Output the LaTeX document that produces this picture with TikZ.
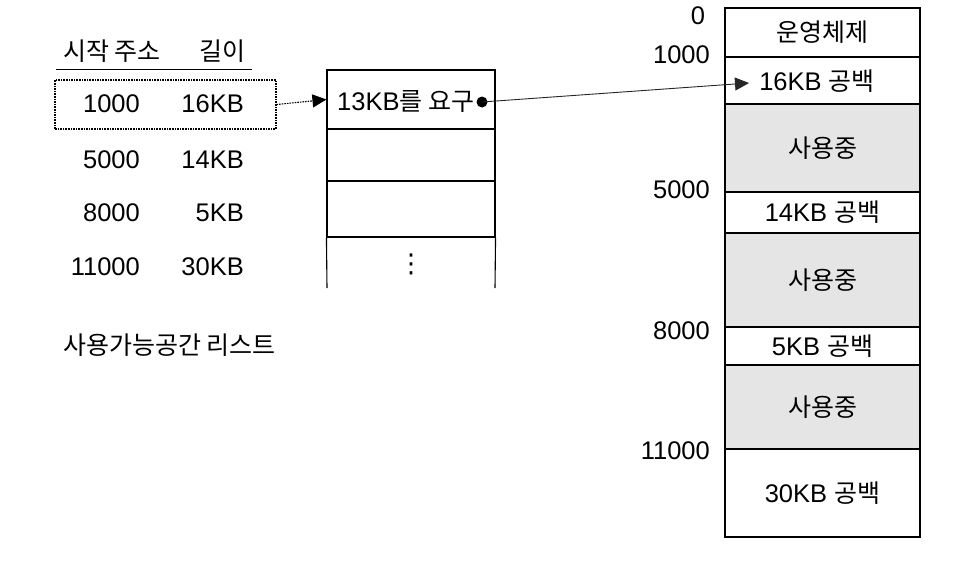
\documentclass[tikz,border=0pt]{standalone}
\usepackage{fontspec}
\setmainfont{Liberation Sans}
\newfontfamily\krf{Noto Sans CJK KR}
\newcommand\kr{\krf\fontsize{25}{30}\selectfont}
\newfontfamily\symf{DejaVu Sans}
\usetikzlibrary{arrows.meta}
\definecolor{usedgray}{HTML}{E5E5E5}
\tikzset{
  txt/.style={inner sep=0pt, font=\fontsize{25.5}{30}\selectfont},
  cell/.style={draw, line width=1.1pt, inner sep=0pt, font=\fontsize{25.5}{30}\selectfont},
  used/.style={cell, fill=usedgray},
  tipa/.style={-{Triangle[length=14pt,width=13pt]}},
  dots/.style={line width=1.1pt, dash pattern=on 1.6pt off 1pt},
}
\begin{document}
\begin{tikzpicture}[x=1pt,y=-1pt]
\useasboundingbox (0,0) rectangle (980,570);
% header of list
\node[txt] (h1) at (112,51) {\kr 시작 주소};
\node[txt] (h2) at (222,51) {\kr 길이};
\coordinate (ul1) at (56,69);
\coordinate (ul2) at (252,69);
\draw[line width=1pt] (ul1) -- (ul2);
% list rows
\node[txt, anchor=east] (a1) at (140,104) {1000};
\node[txt, anchor=east] (l1) at (244,104) {16KB};
\node[txt, anchor=east] (a2) at (140,160) {5000};
\node[txt, anchor=east] (l2) at (244,160) {14KB};
\node[txt, anchor=east] (a3) at (140,213) {8000};
\node[txt, anchor=east] (l3) at (244,213) {5KB};
\node[txt, anchor=east] (a4) at (140,267) {11000};
\node[txt, anchor=east] (l4) at (244,267) {30KB};
\node[draw, dots, minimum width=221pt, minimum height=49pt, inner sep=0pt] (sel) at (165.5,104.5) {};
\node[txt, anchor=west] (cap) at (63,345) {\kr 사용가능공간 리스트};
% request queue
\node[cell, minimum width=168pt, minimum height=59pt] (c1) at (411,99.5) {};
\node[cell, minimum width=168pt, minimum height=52pt] (c2) at (411,155) {};
\node[cell, minimum width=168pt, minimum height=56pt] (c3) at (411,209) {};
\coordinate (c4l) at (327,288);
\coordinate (c4r) at (495,288);
\draw[line width=1.1pt] (c3.south west) -- (c4l);
\draw[line width=1.1pt] (c3.south east) -- (c4r);
\node[txt, font=\symf\fontsize{26}{30}\selectfont] (vd) at (411,264) {⋮};
\node[txt, anchor=west] (req) at (337,101) {13KB{\kr 를 요구}};
\node[circle, fill, inner sep=0pt, minimum size=11pt] (dot) at (482,102) {};
% memory map
\node[cell, minimum width=195pt, minimum height=49pt] (r1) at (822.5,32.5) {\kr 운영체제};
\node[cell, minimum width=195pt, minimum height=47pt] (r2) at (822.5,80.5) {};
\node[txt] (r2t) at (817,81) {16KB {\kr 공백}};
\node[used, minimum width=195pt, minimum height=88pt] (r3) at (822.5,148) {\kr 사용중};
\node[cell, minimum width=195pt, minimum height=41pt] (r4) at (822.5,212.5) {14KB {\kr 공백}};
\node[used, minimum width=195pt, minimum height=94pt] (r5) at (822.5,280) {\kr 사용중};
\node[cell, minimum width=195pt, minimum height=38pt] (r6) at (822.5,346) {5KB {\kr 공백}};
\node[used, minimum width=195pt, minimum height=84pt] (r7) at (822.5,407) {\kr 사용중};
\node[cell, minimum width=195pt, minimum height=88pt] (r8) at (822.5,493) {30KB {\kr 공백}};
% addresses
\node[txt] (m0) at (698,16) {0};
\node[txt, anchor=east] (m1) at (710,55) {1000};
\node[txt, anchor=east] (m2) at (710,190) {5000};
\node[txt, anchor=east] (m3) at (710,331) {8000};
\node[txt, anchor=east] (m4) at (710,451) {11000};
% connectors
\draw[tipa, dots] (sel.east) -- (c1.west);
\coordinate (tip) at (749,83);
\draw[tipa, line width=0.9pt, black!85] (dot.center) -- (tip);
\end{tikzpicture}
\end{document}
